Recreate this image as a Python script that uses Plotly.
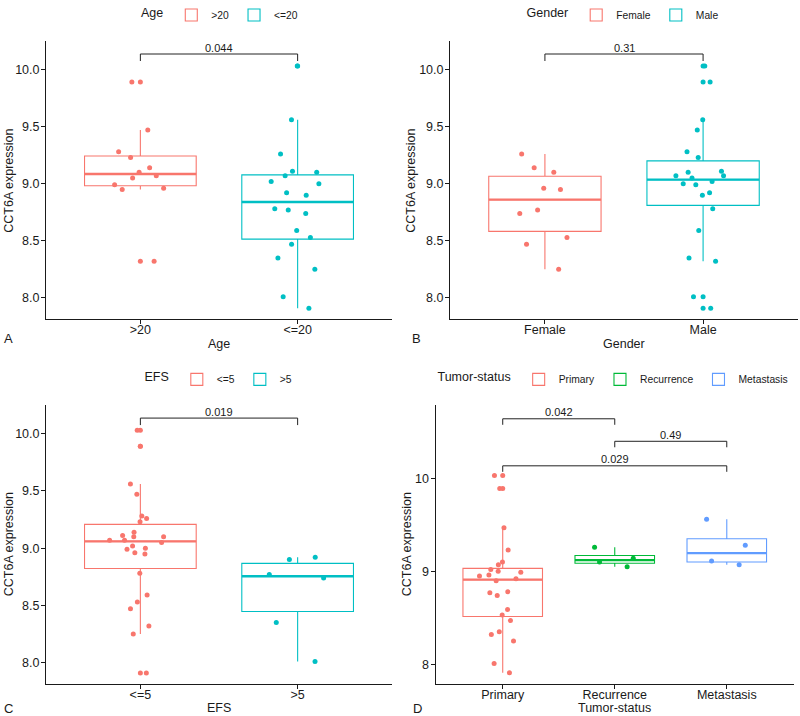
import numpy as np
import plotly.graph_objects as go

# ---------------- data (one entry per sample) ----------------
expression = [10.03, 9.89, 9.56, 9.47, 9.28, 9.26, 9.23, 9.14, 9.11, 9.10, 9.10, 9.07, 9.07, 9.05, 9.02, 9.00,
              8.99, 8.96, 8.95, 8.92, 8.90, 8.78, 8.77, 8.74, 8.59, 8.53, 8.47, 8.35, 8.32, 8.25, 8.01, 7.91]
age = ["<=20", ">20", "<=20", ">20", ">20", "<=20", ">20", ">20", "<=20", ">20", "<=20", ">20", "<=20", ">20", "<=20", "<=20",
       ">20", ">20", ">20", "<=20", "<=20", "<=20", "<=20", "<=20", "<=20", "<=20", "<=20", "<=20", ">20", "<=20", "<=20", "<=20"]
gender = ["Male", "Male", "Male", "Male", "Male", "Female", "Male", "Female", "Male", "Female", "Male", "Male", "Male", "Male", "Male", "Male",
          "Male", "Female", "Female", "Male", "Male", "Male", "Female", "Female", "Male", "Female", "Female", "Male", "Male", "Female", "Male", "Male"]
efs = ["<=5", "<=5", "<=5", "<=5", "<=5", "<=5", "<=5", "<=5", "<=5", "<=5", "<=5", "<=5", "<=5", "<=5", "<=5", "<=5",
       "<=5", "<=5", "<=5", ">5", ">5", "<=5", ">5", ">5", "<=5", "<=5", "<=5", ">5", "<=5", "<=5", ">5", "<=5"]
status = ["Primary", "Primary", "Metastasis", "Primary", "Metastasis", "Recurrence", "Primary", "Recurrence", "Metastasis",
          "Recurrence", "Primary", "Primary", "Metastasis", "Recurrence", "Primary", "Primary",
          "Primary", "Primary", "Primary", "Primary", "Primary", "Primary", "Primary", "Primary", "Primary", "Primary",
          "Primary", "Primary", "Primary", "Primary", "Primary", "Primary"]

age_groups = [">20", "<=20"]
gender_groups = ["Female", "Male"]
efs_groups = ["<=5", ">5"]
status_groups = ["Primary", "Recurrence", "Metastasis"]

age_pvals = [(">20", "<=20", "0.044")]
gender_pvals = [("Female", "Male", "0.31")]
efs_pvals = [("<=5", ">5", "0.019")]
status_pvals = [("Primary", "Recurrence", "0.042"), ("Recurrence", "Metastasis", "0.49"), ("Primary", "Metastasis", "0.029")]

# ---------------- styling / layout ----------------
W, H = 800, 716
RED, CYAN, GREEN, BLUE = "#F8766D", "#00BFC4", "#00BA38", "#619CFF"
FONT = "Liberation Sans, Arial, sans-serif"
TXT = "#1a1a1a"
BOXW = 0.71


def px(x):
    return x / W


def py(y):
    return 1 - y / H


panels = [
    dict(attr=age, name="Age", groups=age_groups, colors=[RED, CYAN], pvals=age_pvals, heights=[10.136], tip=7,
         xdom=(46, 392), ydom=(36.7, 316.7), yrange=(7.811, 10.246), dtick=0.5, fmt=".1f",
         legend=(221, 10), letter="A", letter_xy=(8, 336), ytitle_xy=(9, 177), xtitle_y=341),
    dict(attr=gender, name="Gender", groups=gender_groups, colors=[RED, CYAN], pvals=gender_pvals, heights=[10.136], tip=7,
         xdom=(450, 798), ydom=(36.7, 316.7), yrange=(7.811, 10.246), dtick=0.5, fmt=".1f",
         legend=(624, 10), letter="B", letter_xy=(416, 336), ytitle_xy=(411, 177), xtitle_y=341),
    dict(attr=efs, name="EFS", groups=efs_groups, colors=[RED, CYAN], pvals=efs_pvals, heights=[10.136], tip=7,
         xdom=(46, 392), ydom=(403.3, 684), yrange=(7.812, 10.246), dtick=0.5, fmt=".1f",
         legend=(220, 377), letter="C", letter_xy=(8, 708), ytitle_xy=(9, 543), xtitle_y=708),
    dict(attr=status, name="Tumor-status", groups=status_groups, colors=[RED, GREEN, BLUE], pvals=status_pvals,
         heights=[10.641, 10.399, 10.135], tip=6,
         xdom=(435.5, 794), ydom=(403.3, 684), yrange=(7.786, 10.784), dtick=1, fmt="d",
         legend=(614.5, 377), letter="D", letter_xy=(417, 708), ytitle_xy=(407, 543), xtitle_y=708),
]


def box_stats(v):
    v = np.sort(np.asarray(v, dtype=float))
    q1, med, q3 = np.percentile(v, [25, 50, 75])
    iqr = q3 - q1
    lo = v[v >= q1 - 1.5 * iqr].min()
    hi = v[v <= q3 + 1.5 * iqr].max()
    out = v[(v < lo) | (v > hi)]
    return q1, med, q3, lo, hi, out


fig = go.Figure()
shapes, annotations = [], []
layout = dict(width=W, height=H, margin=dict(l=0, r=0, t=0, b=0), autosize=False,
              paper_bgcolor="white", plot_bgcolor="white", boxmode="overlay", boxgap=0.3, boxgroupgap=0,
              font=dict(family=FONT, color=TXT, size=12), showlegend=True)

for k, p in enumerate(panels, start=1):
    sfx = "" if k == 1 else str(k)
    xa, ya = "x" + sfx, "y" + sfx
    leg = "legend" + sfx
    for i, (g, c) in enumerate(zip(p["groups"], p["colors"])):
        vals = [v for v, a in zip(expression, p["attr"]) if a == g]
        q1, med, q3, lo, hi, out = box_stats(vals)
        fig.add_trace(go.Box(x=[g], q1=[q1], median=[med], q3=[q3], lowerfence=[lo], upperfence=[hi],
                             name=g, xaxis=xa, yaxis=ya, legend=leg, showlegend=True, boxpoints=False,
                             width=BOXW, line=dict(color=c, width=1.1), fillcolor="rgba(255,255,255,0)",
                             whiskerwidth=0, hoverinfo="skip"))
        fig.add_trace(go.Box(x=[g] * len(vals), y=vals, name=g, xaxis=xa, yaxis=ya, legend=leg, showlegend=False,
                             boxpoints="all", jitter=0.6, pointpos=0, width=BOXW,
                             marker=dict(color=c, size=5, line=dict(width=0)),
                             line=dict(color="rgba(0,0,0,0)", width=0), fillcolor="rgba(0,0,0,0)"))
        if len(out):
            fig.add_trace(go.Scatter(x=[g] * len(out), y=list(out), mode="markers", xaxis=xa, yaxis=ya,
                                     showlegend=False, marker=dict(color=c, size=5), hoverinfo="y"))
        shapes.append(dict(type="line", xref=xa, yref=ya, x0=i - BOXW / 2, x1=i + BOXW / 2, y0=med, y1=med,
                           line=dict(color=c, width=2.3), layer="below"))

    # comparison brackets
    for (g1, g2, pv), h in zip(p["pvals"], p["heights"]):
        i1, i2 = p["groups"].index(g1), p["groups"].index(g2)
        shapes.append(dict(type="line", xref=xa, yref=ya, x0=i1, x1=i2, y0=h, y1=h,
                           line=dict(color="#222222", width=1)))
        for ii in (i1, i2):
            shapes.append(dict(type="line", xref=xa, yref=ya, x0=ii, x1=ii, ysizemode="pixel", yanchor=h,
                               y0=0, y1=-p["tip"], line=dict(color="#222222", width=1)))
        annotations.append(dict(xref=xa, yref=ya, x=(i1 + i2) / 2, y=h, yshift=6.5, yanchor="middle",
                                text=pv, showarrow=False, font=dict(size=11, color=TXT)))

    axis_common = dict(showline=True, linecolor="#1a1a1a", linewidth=1, ticks="outside", ticklen=4,
                       tickcolor="#1a1a1a", tickwidth=1, showgrid=False, zeroline=False,
                       tickfont=dict(size=12.5, color=TXT, family=FONT))
    layout["xaxis" + sfx] = dict(axis_common, domain=[px(p["xdom"][0]), px(p["xdom"][1])], anchor=ya,
                                 type="category", categoryorder="array", categoryarray=p["groups"],
                                 range=[-0.6, len(p["groups"]) - 0.4], ticklabelstandoff=-5)
    layout["yaxis" + sfx] = dict(axis_common, domain=[py(p["ydom"][1]), py(p["ydom"][0])], anchor=xa,
                                 range=list(p["yrange"]), dtick=p["dtick"], tick0=8, tickformat=p["fmt"],
                                 ticklabelstandoff=-1)
    layout[leg] = dict(orientation="h", x=px(p["legend"][0]), xanchor="center", y=py(p["legend"][1]),
                       yanchor="middle", title=dict(text=p["name"], font=dict(size=12.5, color=TXT)),
                       font=dict(size=10.3, color=TXT), bgcolor="rgba(0,0,0,0)", itemwidth=30,
                       tracegroupgap=0)

    # axis titles and panel letter
    xc = (p["xdom"][0] + p["xdom"][1]) / 2
    annotations.append(dict(xref="paper", yref="paper", x=px(xc), y=py(p["xtitle_y"]), xanchor="center",
                            yanchor="middle", text=p["name"], showarrow=False, font=dict(size=12.5, color=TXT)))
    annotations.append(dict(xref="paper", yref="paper", x=px(p["ytitle_xy"][0]), y=py(p["ytitle_xy"][1]),
                            xanchor="center", yanchor="middle", text="CCT6A expression", textangle=-90,
                            showarrow=False, font=dict(size=12.5, color=TXT)))
    annotations.append(dict(xref="paper", yref="paper", x=px(p["letter_xy"][0]), y=py(p["letter_xy"][1]),
                            xanchor="center", yanchor="middle", text=p["letter"], showarrow=False,
                            font=dict(size=13, color=TXT)))

layout["shapes"] = shapes
layout["annotations"] = annotations
fig.update_layout(**layout)
fig.write_html("out.html", config={"displayModeBar": False},
               post_script="document.body.style.margin='0';document.body.style.padding='0';"
                           "document.body.style.overflow='hidden';")
